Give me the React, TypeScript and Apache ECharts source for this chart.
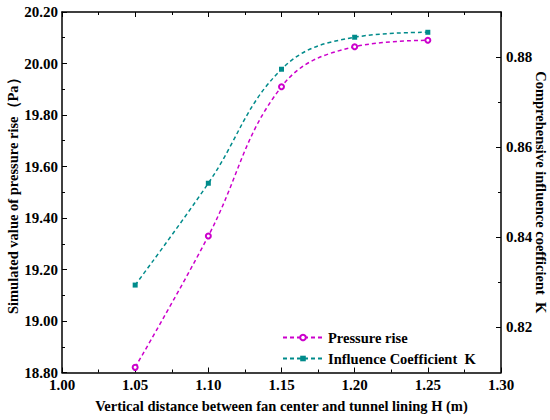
import React, { useEffect, useRef } from "react";
import * as echarts from "echarts";

const xValues = [1.05, 1.1, 1.15, 1.2, 1.25];
const pressureRise = [18.82, 19.33, 19.91, 20.065, 20.09];
const influenceK = [0.8294, 0.852, 0.8773, 0.8844, 0.8855];
const rightLabelValues = [0.82, 0.84, 0.86, 0.88];
const rightMinorValues = [0.83, 0.85, 0.87];
const seriesNames = ["Pressure rise", "Influence Coefficient\u2002K"];

const FONT = "'Liberation Serif', 'Times New Roman', serif";
const MAGENTA = "#cc00cc";
const TEAL = "#008b8b";

export default function App() {
  const ref = useRef<HTMLDivElement>(null);
  useEffect(() => {
    if (!ref.current) return;
    const chart = echarts.init(ref.current, undefined, { renderer: "svg" });
    const lineAxis = { show: true, lineStyle: { color: "#000", width: 1.5 } };
    const labelStyle = { color: "#000", fontFamily: FONT, fontWeight: "bold" as const, fontSize: 15 };
    const nameStyle = { color: "#000", fontFamily: FONT, fontWeight: "bold" as const, fontSize: 14.5 };
    chart.setOption({
      animation: false,
      backgroundColor: "#fff",
      grid: { left: 62, right: 49, top: 12, bottom: 47.5, containLabel: false, outerBoundsMode: "none" },
      legend: {
        orient: "vertical",
        left: 277,
        top: 325,
        itemWidth: 40,
        itemHeight: 7,
        itemGap: 6,
        textStyle: { ...nameStyle, fontSize: 14.5 },
        data: seriesNames,
      },
      xAxis: [
        {
          type: "value",
          min: 1.0,
          max: 1.3,
          interval: 0.05,
          name: "Vertical distance between fan center and tunnel lining H (m)",
          nameLocation: "middle",
          nameGap: 26,
          nameMoveOverlap: false,
          nameTextStyle: nameStyle,
          axisLine: { ...lineAxis, onZero: false },
          axisTick: { show: true, inside: true, length: 5, lineStyle: { color: "#000", width: 1 } },
          minorTick: { show: true, splitNumber: 2, length: 3, lineStyle: { color: "#000", width: 1 } },
          axisLabel: { ...labelStyle, margin: 5, formatter: (v: number) => v.toFixed(2) },
          splitLine: { show: false },
        },
        {
          type: "value",
          position: "top",
          min: 1.0,
          max: 1.3,
          interval: 0.05,
          axisLine: { ...lineAxis, onZero: false },
          axisTick: { show: true, inside: true, length: 5, lineStyle: { color: "#000", width: 1 } },
          minorTick: { show: true, splitNumber: 2, length: 3, lineStyle: { color: "#000", width: 1 } },
          axisLabel: { show: false },
          splitLine: { show: false },
        },
      ],
      yAxis: [
        {
          type: "value",
          position: "left",
          min: 18.8,
          max: 20.2,
          interval: 0.2,
          name: "Simulated value of pressure rise（Pa）",
          nameLocation: "middle",
          nameGap: 42,
          nameMoveOverlap: false,
          nameRotate: 90,
          nameTextStyle: nameStyle,
          axisLine: { ...lineAxis, onZero: false },
          axisTick: { show: true, inside: true, length: 5, lineStyle: { color: "#000", width: 1 } },
          minorTick: { show: true, splitNumber: 2, length: 3, lineStyle: { color: "#000", width: 1 } },
          axisLabel: { ...labelStyle, margin: 4, formatter: (v: number) => v.toFixed(2) },
          splitLine: { show: false },
        },
        {
          type: "value",
          position: "right",
          min: 0.81,
          max: 0.89,
          name: "Comprehensive influence coefficient\u2002K",
          nameLocation: "middle",
          nameGap: 32,
          nameMoveOverlap: false,
          nameRotate: -90,
          nameTextStyle: nameStyle,
          axisLine: { ...lineAxis, onZero: false },
          axisTick: {
            show: true,
            inside: true,
            length: 5,
            customValues: rightLabelValues,
            lineStyle: { color: "#000", width: 1 },
          },
          axisLabel: {
            ...labelStyle,
            margin: 5,
            customValues: rightLabelValues,
            formatter: (v: number) => v.toFixed(2),
          },
          splitLine: { show: false },
        },
        {
          type: "value",
          position: "right",
          min: 0.81,
          max: 0.89,
          axisLine: { show: false },
          axisTick: {
            show: true,
            inside: true,
            length: 3,
            customValues: rightMinorValues,
            lineStyle: { color: "#000", width: 1 },
          },
          axisLabel: { show: false, customValues: rightMinorValues },
          splitLine: { show: false },
        },
      ],
      series: [
        {
          name: seriesNames[0],
          type: "line",
          xAxisIndex: 0,
          yAxisIndex: 0,
          smooth: 0.4,
          data: xValues.map((x, i) => [x, pressureRise[i]]),
          symbol: "emptyCircle",
          symbolSize: 5,
          itemStyle: { color: MAGENTA, borderColor: MAGENTA, borderWidth: 1.5 },
          lineStyle: { color: MAGENTA, width: 1.5, type: [4, 3] },
        },
        {
          name: seriesNames[1],
          type: "line",
          xAxisIndex: 0,
          yAxisIndex: 1,
          smooth: 0.4,
          data: xValues.map((x, i) => [x, influenceK[i]]),
          symbol: "rect",
          symbolSize: 5,
          itemStyle: { color: TEAL },
          lineStyle: { color: TEAL, width: 1.5, type: [4, 3] },
        },
      ],
    });
    return () => chart.dispose();
  }, []);
  return (
    <div
      ref={ref}
      style={{ position: "fixed", left: 0, top: 0, width: 550, height: 420, background: "#fff" }}
    />
  );
}
